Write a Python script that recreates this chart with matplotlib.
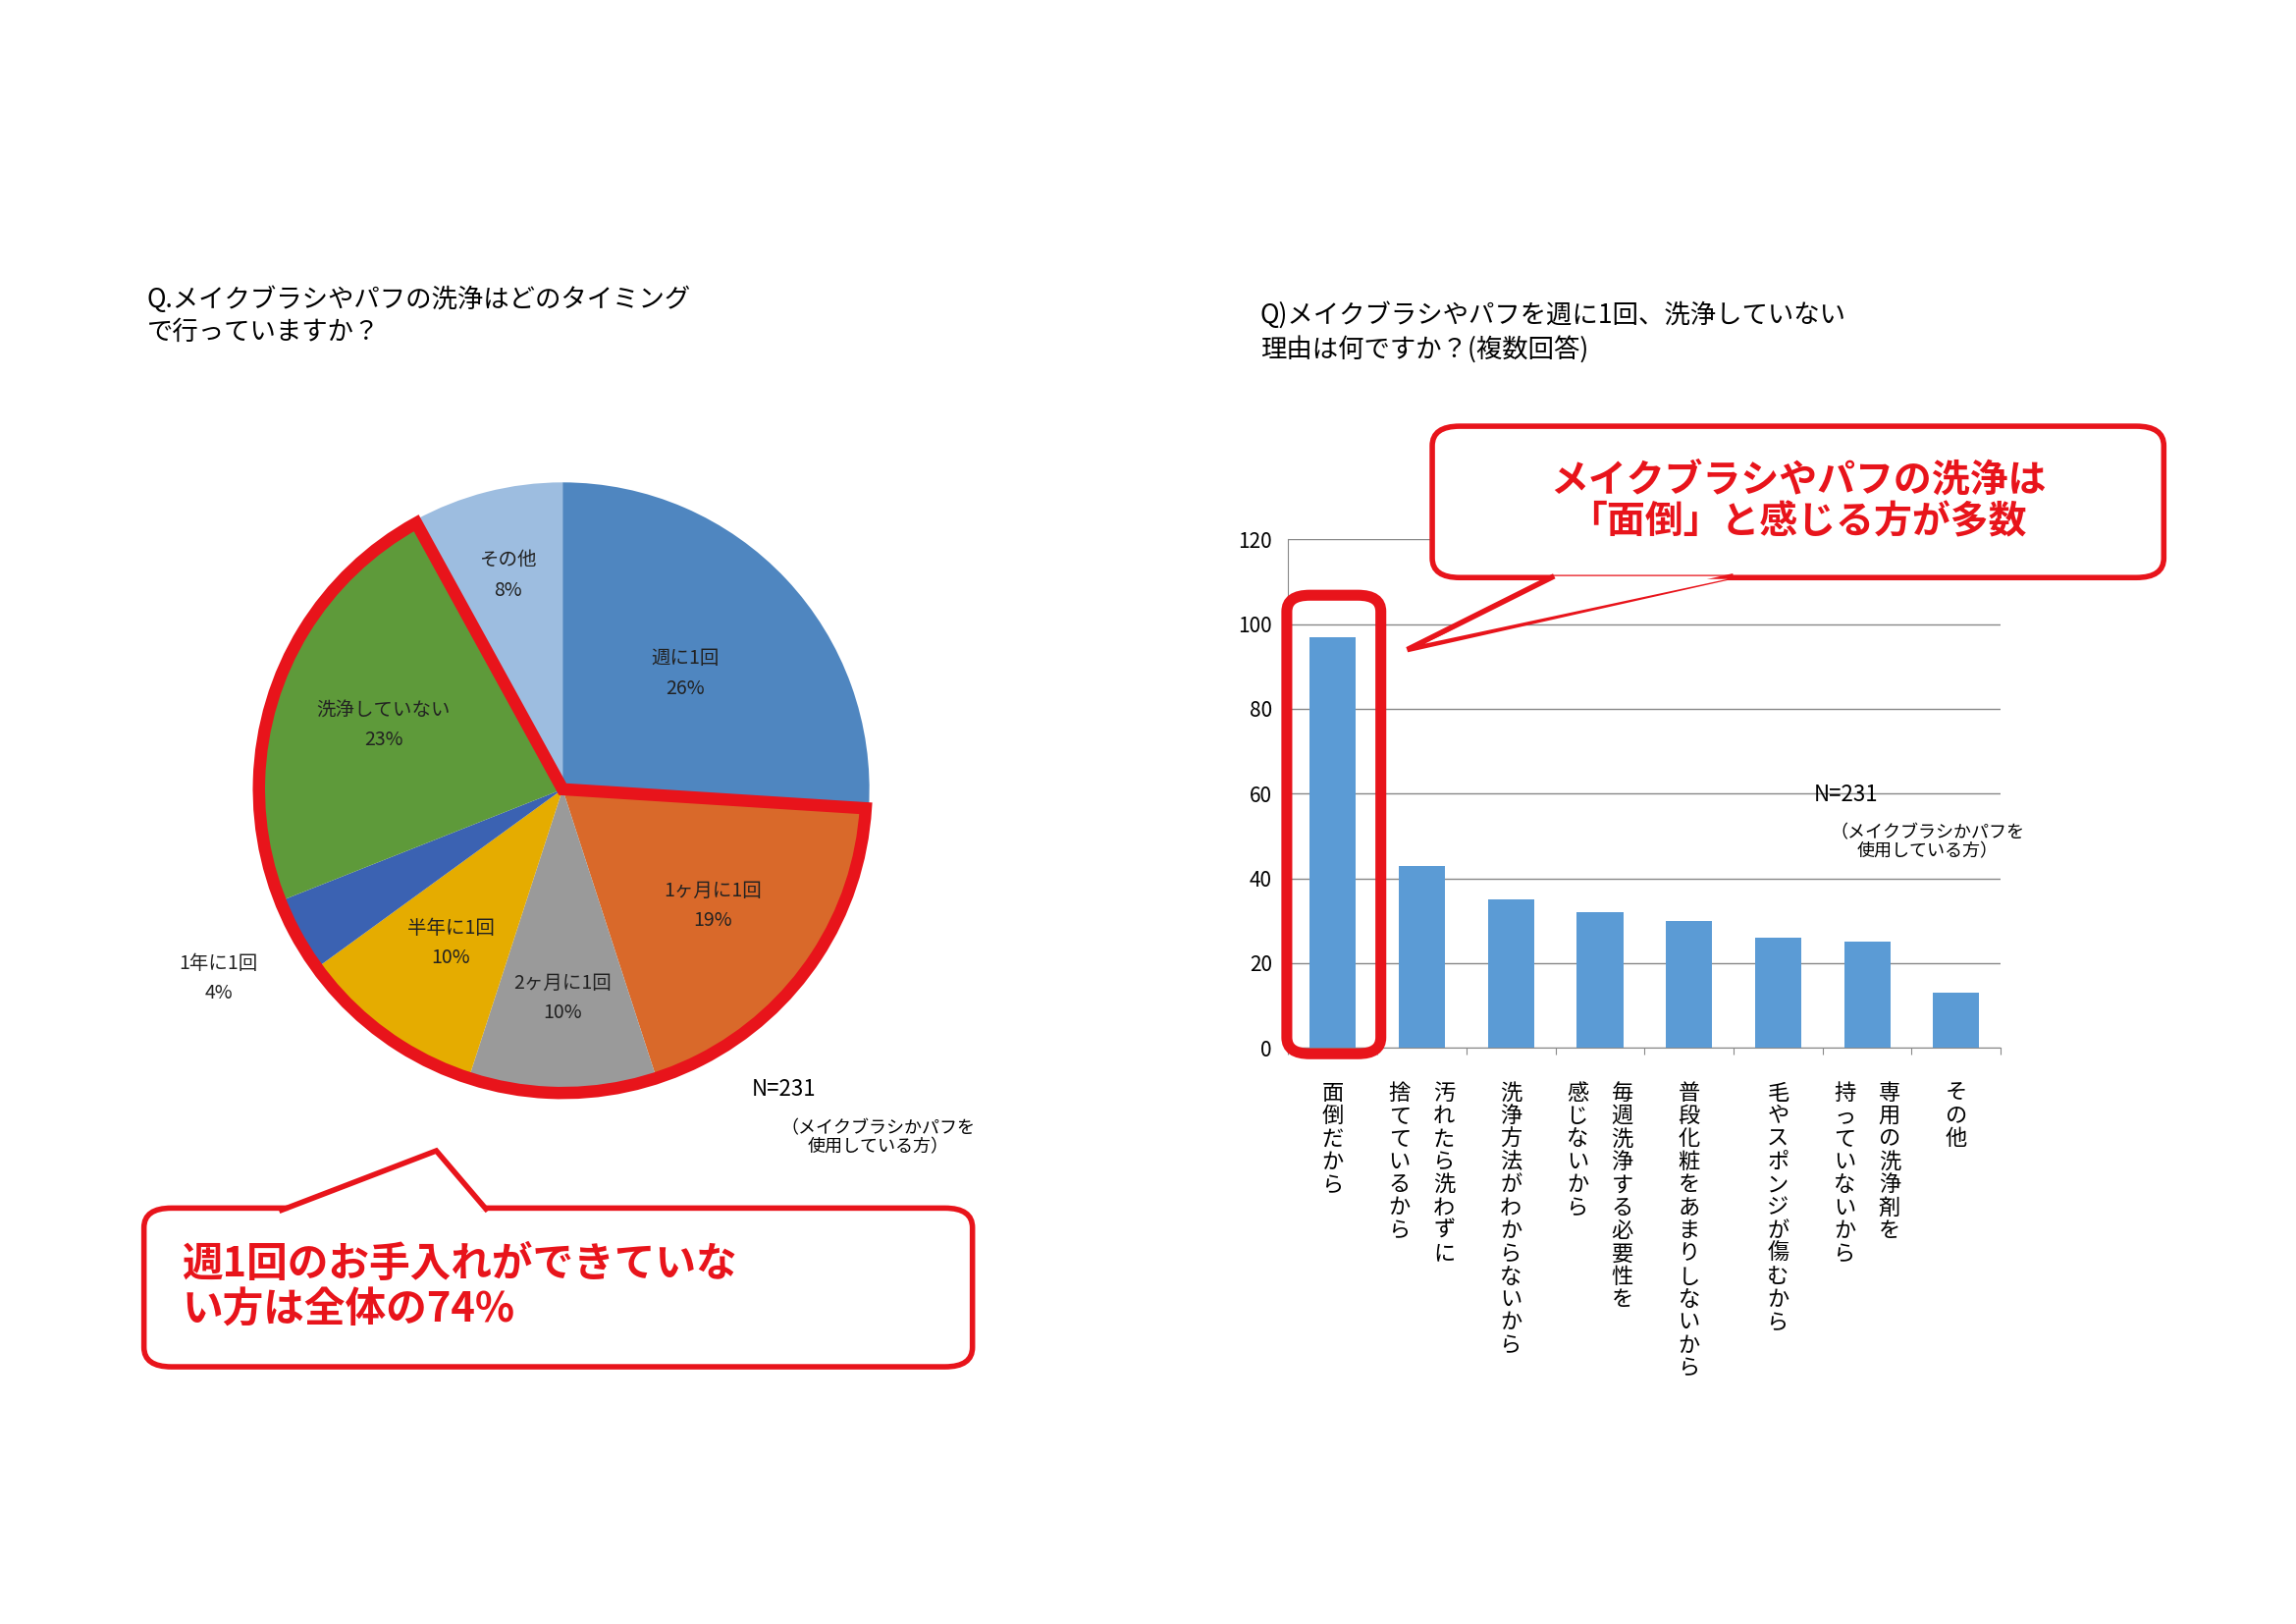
import numpy as np
import matplotlib.pyplot as plt
from matplotlib.patches import Wedge, FancyBboxPatch, Polygon

plt.rcParams["font.family"] = "Noto Sans CJK JP"

# ===== Data =====
pie_labels = ["週に1回", "1ヶ月に1回", "2ヶ月に1回", "半年に1回", "1年に1回", "洗浄していない", "その他"]
pie_values = [26, 19, 10, 10, 4, 23, 8]
pie_colors = ["#4F86C0", "#D9692A", "#9A9A9A", "#E5AC00", "#3B62B2", "#5E9A3A", "#9DBDE0"]

bar_labels = [["面倒だから"],
              ["汚れたら洗わずに", "捨てているから"],
              ["洗浄方法がわからないから"],
              ["毎週洗浄する必要性を", "感じないから"],
              ["普段化粧をあまりしないから"],
              ["毛やスポンジが傷むから"],
              ["専用の洗浄剤を", "持っていないから"],
              ["その他"]]
bar_values = [97, 43, 35, 32, 30, 26, 25, 13]

W, H = 1563, 1105  # reference layout units
def fx(x): return x / W
def fy(y): return 1 - y / H

fig = plt.figure(figsize=(23.39, 16.54), dpi=100)
RED = "#E8141B"

# ===== Titles =====
fig.text(fx(100), fy(215), "Q.メイクブラシやパフの洗浄はどのタイミング\nで行っていますか？",
         fontsize=19, va="center", ha="left", linespacing=1.3)
fig.text(fx(858), fy(226), "Q)メイクブラシやパフを週に1回、洗浄していない\n理由は何ですか？(複数回答)",
         fontsize=19, va="center", ha="left", linespacing=1.3)

# ===== Pie =====
cx, cy, r = 383, 537, 213
pax = fig.add_axes([fx(cx - r), fy(cy + r), 2 * r / W, 2 * r / H])
wedges, _ = pax.pie(pie_values, colors=pie_colors, startangle=90, counterclock=False,
                    radius=1.0, wedgeprops=dict(linewidth=0))
pax.set_xlim(-1.02, 1.02); pax.set_ylim(-1.02, 1.02)
pax.set_aspect("equal"); pax.axis("off")

total = sum(pie_values)
ang = 90.0
mids = []
for v in pie_values:
    a2 = ang - v / total * 360
    mids.append((ang + a2) / 2)
    ang = a2
th_hi = 90 - pie_values[0] / total * 360
th_lo = 90 + pie_values[-1] / total * 360 - 360
pax.add_patch(Wedge((0, 0), 0.99, th_lo, th_hi, fill=False, ec=RED, lw=9,
                    joinstyle="miter", clip_on=False))

label_r = [0.55, 0.62, 0.68, 0.62, 1.28, 0.62, 0.72]
for lab, v, m, lr in zip(pie_labels, pie_values, mids, label_r):
    x, y = lr * np.cos(np.radians(m)), lr * np.sin(np.radians(m))
    pax.text(x, y, f"{lab}\n{v}%", ha="center", va="center", fontsize=14,
             color="#222222", linespacing=1.6, clip_on=False)

fig.text(fx(512), fy(741), "N=231", fontsize=16, va="center")
fig.text(fx(598), fy(774), "（メイクブラシかパフを\n使用している方）", fontsize=13,
         ha="center", va="center", linespacing=1.1)

# ===== Callout left =====
fig.patches.append(FancyBboxPatch((fx(98), fy(930)), fx(662) - fx(98), fy(822) - fy(930),
                                  boxstyle="round,pad=0,rounding_size=0.012",
                                  transform=fig.transFigure, fc="white", ec=RED, lw=4))
fig.patches.append(Polygon([[fx(190), fy(824)], [fx(297), fy(783)], [fx(332), fy(824)]],
                           closed=False, transform=fig.transFigure, fc="white", ec=RED, lw=4))
fig.patches.append(Polygon([[fx(194), fy(825)], [fx(297), fy(787)], [fx(328), fy(825)]],
                           closed=True, transform=fig.transFigure, fc="white", ec="none"))
fig.text(fx(124), fy(876), "週1回のお手入れができていな\nい方は全体の74%", fontsize=30,
         fontweight="bold", color=RED, va="center", ha="left", linespacing=1.15)

# ===== Bars =====
bax = fig.add_axes([fx(877), fy(713), (1362 - 877) / W, (713 - 367) / H])
x = np.arange(len(bar_values))
bax.bar(x, bar_values, width=0.52, color="#5B9BD5", zorder=3)
bax.set_ylim(0, 120)
bax.set_xlim(-0.5, len(bar_values) - 0.5)
bax.set_yticks(range(0, 121, 20))
bax.tick_params(axis="y", labelsize=15, length=0, pad=12)
bax.set_xticks(np.arange(-0.5, len(bar_values), 1))
bax.set_xticklabels([])
bax.tick_params(axis="x", length=5, color="#888888")
bax.grid(axis="y", color="#888888", lw=1)
for s in ["top", "right"]:
    bax.spines[s].set_visible(False)
bax.spines["left"].set_color("#888888")
bax.spines["bottom"].set_color("#888888")

for i, cols in enumerate(bar_labels):
    n = len(cols)
    for j, col in enumerate(cols):
        off = (n - 1) / 2 * 0.5 - j * 0.5
        bax.text(i + off, -8, "\n".join(col), ha="center", va="top", fontsize=16,
                 linespacing=1.02, clip_on=False)

fig.text(fx(1235), fy(541), "N=231", fontsize=16, va="center")
fig.text(fx(1312), fy(573), "（メイクブラシかパフを\n使用している方）", fontsize=13,
         ha="center", va="center", linespacing=1.1)

# highlight of first bar
fig.patches.append(FancyBboxPatch((fx(876), fy(717)), fx(940) - fx(876), fy(405) - fy(717),
                                  boxstyle="round,pad=0,rounding_size=0.01",
                                  transform=fig.transFigure, fill=False, ec=RED, lw=8))

# ===== Callout right =====
fig.patches.append(FancyBboxPatch((fx(975), fy(393)), fx(1473) - fx(975), fy(290) - fy(393),
                                  boxstyle="round,pad=0,rounding_size=0.012",
                                  transform=fig.transFigure, fc="white", ec=RED, lw=4))
fig.patches.append(Polygon([[fx(1058), fy(392)], [fx(958), fy(442)], [fx(1180), fy(392)]],
                           closed=False, transform=fig.transFigure, fc="white", ec=RED, lw=4))
fig.patches.append(Polygon([[fx(1062), fy(394)], [fx(970), fy(438)], [fx(1176), fy(394)]],
                           closed=True, transform=fig.transFigure, fc="white", ec="none"))
fig.text(fx(1224), fy(341), "メイクブラシやパフの洗浄は\n「面倒」と感じる方が多数", fontsize=28,
         fontweight="bold", color=RED, va="center", ha="center", linespacing=1.15)

fig.savefig("out.png", dpi=100, facecolor="white")
